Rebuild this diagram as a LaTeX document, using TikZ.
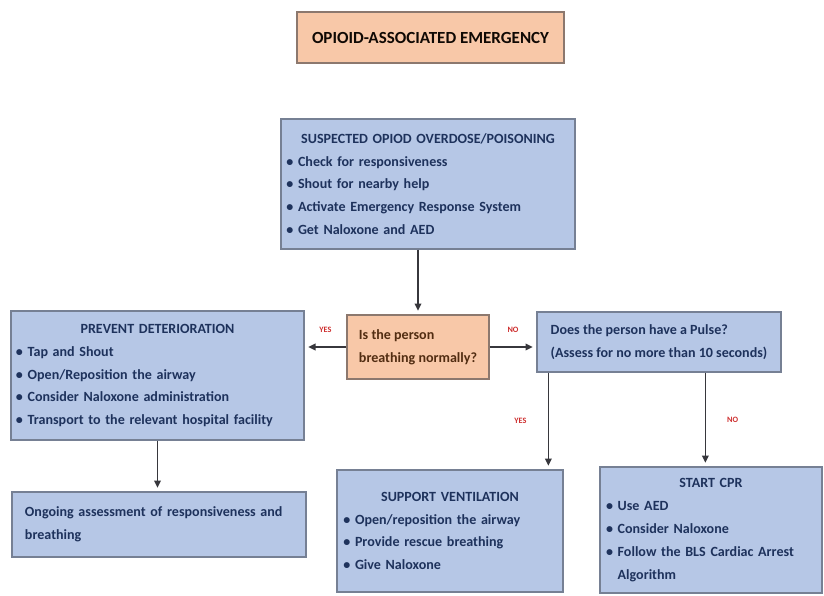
\documentclass[tikz,border=0pt]{standalone}
\usepackage{fontspec}
\setmainfont{Carlito}
\usetikzlibrary{arrows.meta,calc}
\definecolor{boxblue}{RGB}{182,199,230}
\definecolor{boxedge}{RGB}{118,128,148}
\definecolor{boxorange}{RGB}{248,200,168}
\definecolor{edgebrown}{RGB}{140,120,110}
\definecolor{textnavy}{RGB}{30,50,92}
\definecolor{textbrown}{RGB}{82,45,18}
\definecolor{arrowgray}{RGB}{55,55,60}
\definecolor{answerred}{RGB}{205,45,45}
\tikzset{
  bluebox/.style={draw=boxedge, line width=1.1pt, fill=boxblue, text=textnavy,
    font=\fontsize{12}{19.5}\selectfont\bfseries, inner sep=0.15cm, align=left},
  orangebox/.style={draw=edgebrown, line width=1.1pt, fill=boxorange, text=textbrown,
    font=\fontsize{12}{19.5}\selectfont\bfseries, inner sep=0.15cm, align=left},
  flow/.style={-{Triangle[length=2.2mm,width=2mm]}, line width=1.3pt, draw=arrowgray,
    shorten >=3pt},
  answer/.style={font=\fontsize{7}{8}\selectfont\bfseries, text=answerred, inner sep=1pt},
}
\newcommand{\hd}[1]{\makebox[\hsize]{#1}}
\newcommand{\itm}{\textbullet~}

\begin{document}
\begin{tikzpicture}[x=0.03cm, y=-0.03cm]
  \useasboundingbox (0,0) rectangle (824,595);

  %% ---- top ----
  \node[orangebox, minimum width=8.01cm, minimum height=1.53cm,
        font=\fontsize{14.5}{16}\selectfont\bfseries, text=black!80!textbrown]
        (title) at (430.5,37.5) {OPIOID-ASSOCIATED EMERGENCY};
  \node[bluebox, minimum width=8.82cm, minimum height=3.9cm, text width=8.5cm]
        (suspect) at (428,184)
        {\hd{SUSPECTED OPIOD OVERDOSE/POISONING}\\
         \itm Check for responsiveness\\
         \itm Shout for nearby help\\
         \itm Activate Emergency Response System\\
         \itm Get Naloxone and AED};

  %% ---- middle row ----
  \node[orangebox, minimum width=4.26cm, minimum height=1.92cm]
        (question) at (418,347) {Is the person\\breathing normally?};
  \node[bluebox, minimum width=8.79cm, minimum height=3.87cm, text width=8.49cm]
        (prevent) at (157.5,375.5)
        {\hd{PREVENT DETERIORATION}\\
         \itm Tap and Shout\\
         \itm Open/Reposition the airway\\
         \itm Consider Naloxone administration\\
         \itm Transport to the relevant hospital facility};
  \node[bluebox, minimum width=7.32cm, minimum height=1.8cm]
        (pulse) at (659,342)
        {Does the person have a Pulse?\\(Assess for no more than 10 seconds)};

  %% ---- bottom row ----
  \node[bluebox, minimum width=8.82cm, minimum height=1.95cm, inner xsep=0.39cm,
        text width=8.04cm]
        (ongoing) at (159,524.5)
        {Ongoing assessment of responsiveness and\\breathing};
  \node[bluebox, minimum width=6.78cm, minimum height=3.66cm, text width=6.4cm]
        (support) at (450,531)
        {\hd{SUPPORT VENTILATION}\\
         \itm Open/reposition the airway\\
         \itm Provide rescue breathing\\
         \itm Give Naloxone};
  \node[bluebox, minimum width=6.66cm, minimum height=3.78cm, text width=6.3cm]
        (cpr) at (711,530)
        {\hd{START CPR}\\
         \itm Use AED\\
         \itm Consider Naloxone\\
         \itm Follow the BLS Cardiac Arrest\\
         \phantom{\itm}Algorithm};

  %% ---- connectors ----
  \draw[flow] (suspect.south -| question.north) -- (question.north);
  \draw[flow] (question.west) -- (question.west -| prevent.east)
        node[answer, midway, above=11pt] {YES};
  \draw[flow] (question.east) -- (question.east -| pulse.west)
        node[answer, midway, above=11pt] {NO};
  \coordinate (yesfoot) at ($(pulse.south west)+(12,0)$);
  \coordinate (nofoot) at ($(pulse.south west)+(169,0)$);
  \draw[flow] (yesfoot) -- (yesfoot |- support.north)
        node[answer, midway, left=17pt] {YES};
  \draw[flow] (nofoot) -- (nofoot |- cpr.north)
        node[answer, midway, right=17pt] {NO};
  \draw[flow] (prevent.south) -- (prevent.south |- ongoing.north);
\end{tikzpicture}
\end{document}
